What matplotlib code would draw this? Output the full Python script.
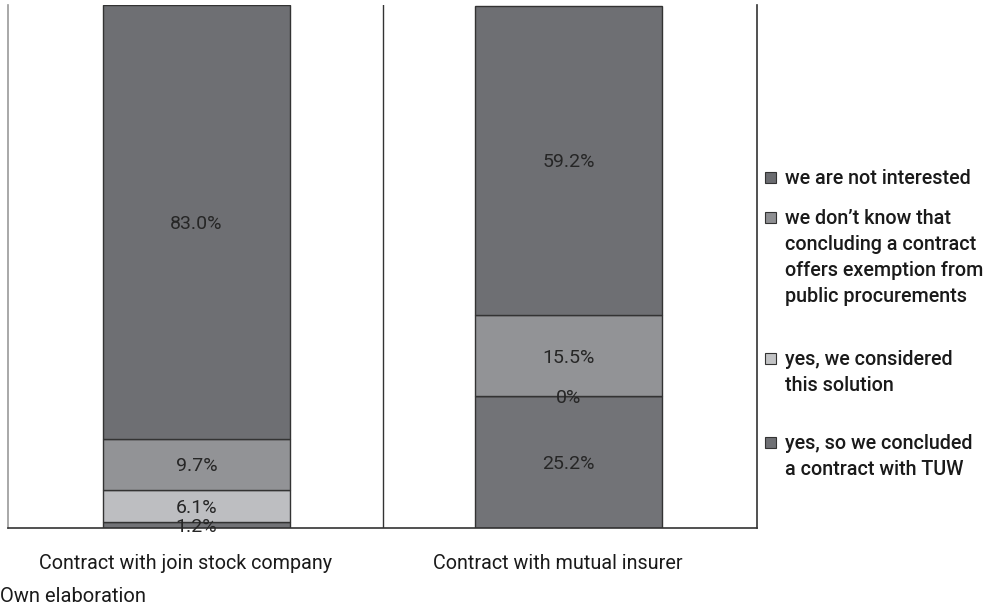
import numpy as np
import matplotlib.pyplot as plt
from matplotlib.patches import Rectangle

categories = ["Contract with join stock company", "Contract with mutual insurer"]
series_names = [
    "yes, so we concluded\na contract with TUW",
    "yes, we considered\nthis solution",
    "we don\u2019t know that\nconcluding a contract\noffers exemption from\npublic procurements",
    "we are not interested",
]
concluded = [1.2, 25.2]
considered = [6.1, 0.0]
dont_know = [9.7, 15.5]
not_interested = [83.0, 59.2]

values = [concluded, considered, dont_know, not_interested]
colors = ["#727377", "#bdbec1", "#929396", "#6e6f73"]
legend_colors = ["#6f7074", "#c2c3c5", "#8e8f92", "#6b6c70"]

plt.rcParams['font.family'] = ['Roboto', 'DejaVu Sans']

fig = plt.figure(figsize=(9.88, 6.09), dpi=100)
W, H = 988, 609
ax = fig.add_axes([8 / W, (H - 528) / H, 749 / W, 523 / H])

x = np.arange(len(categories))
bottom = np.zeros(len(categories))
for vals, col in zip(values, colors):
    vals = np.array(vals)
    ax.bar(x, vals, width=0.502, bottom=bottom, color=col,
           edgecolor="#333333", linewidth=1.0, zorder=2)
    for xi, b, v in zip(x, bottom, vals):
        ax.text(xi, b + v / 2, f"{v:g}%" if v == 0 else f"{v:.1f}%",
                ha="center", va="center_baseline", fontsize=14,
                color="#262626", zorder=3)
    bottom += vals

ax.set_xlim(-0.506, 1.506)
ax.set_ylim(0, 100)
ax.axvline(0.5, color="#333333", linewidth=1.0, zorder=1)

ax.spines["top"].set_visible(False)
ax.spines["left"].set_color("#999999")
ax.spines["bottom"].set_color("#333333")
ax.spines["right"].set_color("#333333")
for s in ["left", "bottom", "right"]:
    ax.spines[s].set_linewidth(1.2)

ax.set_yticks([])
ax.set_xticks(x - 0.03)
ax.set_xticklabels(categories, fontsize=14.2, color="#1a1a1a")
ax.tick_params(axis="x", length=0, pad=19)

fig.text(0 / W, 1 - 597 / H, "Own elaboration", fontsize=14.5,
         color="#1a1a1a", ha="left", va="center")

# legend drawn by hand on the right
legend_y = [442, 358, 217, 177]
for name, col, ly in zip(series_names, legend_colors, legend_y):
    fig.patches.append(Rectangle((765 / W, 1 - (ly + 6) / H), 11 / W, 11 / H,
                                 transform=fig.transFigure,
                                 facecolor=col, edgecolor="#333333",
                                 linewidth=0.8))
    fig.text(785 / W, 1 - (ly - 8) / H, name, fontsize=14.2,
             fontweight="medium", color="#1a1a1a", ha="left", va="top",
             linespacing=1.47)

fig.savefig("out.png", dpi=100)
